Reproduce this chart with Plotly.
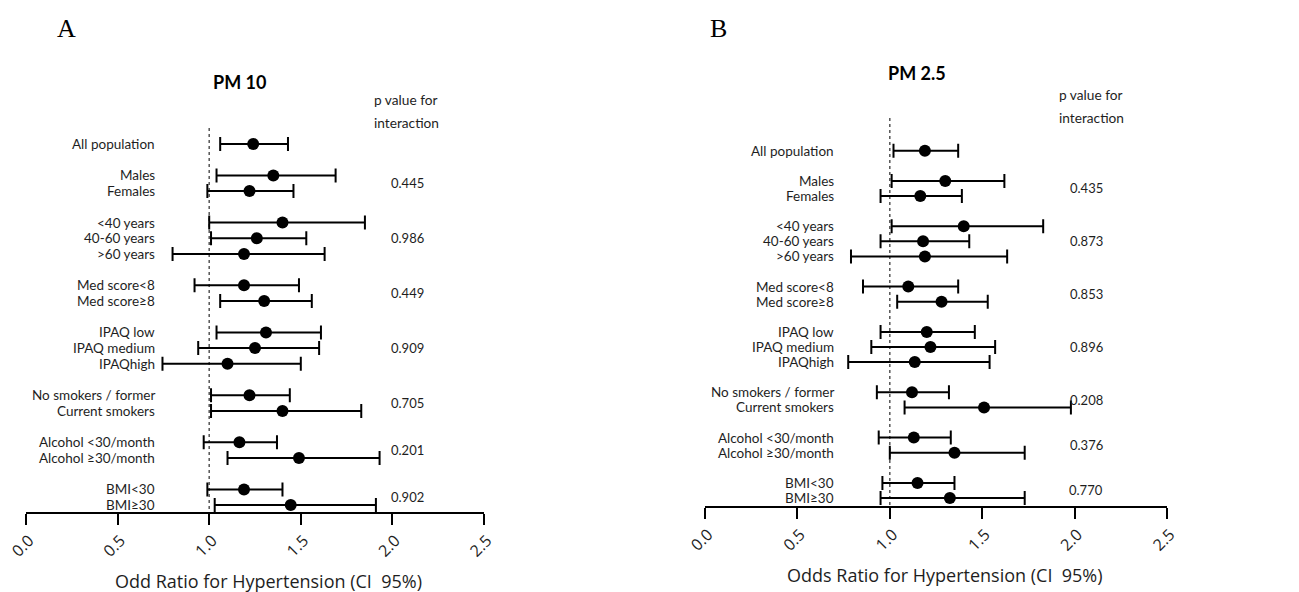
import plotly.graph_objects as go

# ---------------- data ----------------
groups = [
    ["All population"],
    ["Males", "Females"],
    ["<40 years", "40-60 years", ">60 years"],
    ["Med score<8", "Med score\u22658"],
    ["IPAQ low", "IPAQ medium", "IPAQhigh"],
    ["No smokers / former", "Current smokers"],
    ["Alcohol <30/month", "Alcohol \u226530/month"],
    ["BMI<30", "BMI\u226530"],
]

pm10_or = [1.24, 1.35, 1.22, 1.40, 1.26, 1.19, 1.19, 1.30, 1.31, 1.25, 1.10, 1.22, 1.40, 1.165, 1.49, 1.19, 1.445]
pm10_lo = [1.06, 1.04, 0.99, 1.00, 1.01, 0.80, 0.92, 1.06, 1.04, 0.94, 0.745, 1.01, 1.01, 0.97, 1.10, 0.99, 1.03]
pm10_hi = [1.43, 1.69, 1.46, 1.85, 1.53, 1.63, 1.49, 1.56, 1.61, 1.60, 1.50, 1.44, 1.83, 1.37, 1.93, 1.40, 1.91]
pm10_p = ["", "0.445", "0.986", "0.449", "0.909", "0.705", "0.201", "0.902"]

pm25_or = [1.19, 1.30, 1.165, 1.40, 1.18, 1.19, 1.10, 1.28, 1.20, 1.22, 1.135, 1.12, 1.51, 1.13, 1.35, 1.15, 1.325]
pm25_lo = [1.02, 1.01, 0.95, 1.01, 0.95, 0.79, 0.855, 1.04, 0.95, 0.90, 0.775, 0.93, 1.08, 0.94, 1.00, 0.96, 0.95]
pm25_hi = [1.37, 1.62, 1.39, 1.83, 1.43, 1.635, 1.37, 1.53, 1.46, 1.57, 1.54, 1.32, 1.98, 1.33, 1.73, 1.35, 1.73]
pm25_p = ["", "0.435", "0.873", "0.853", "0.896", "0.208", "0.376", "0.770"]

x_ticks = [0.0, 0.5, 1.0, 1.5, 2.0, 2.5]
ref_value = 1.0

# ---------------- layout constants ----------------
OFF = 8                      # page body margin
W, H = 1299 - OFF, 592 - OFF
FONT = "Lato"
TXT = "#1e1e1e"


def px_x(p):
    return (p - OFF) / W


def px_y(p):
    return 1 - (p - OFF) / H


# row positions derived from group structure (blank row between groups)
rows, group_mid = [], []
r = 0
for g in groups:
    start = r
    for _ in g:
        rows.append(r)
        r += 1
    group_mid.append((start + r - 1) / 2)
    r += 1
labels = [lab for g in groups for lab in g]

panels = [
    dict(letter="A", title="PM 10", or_=pm10_or, lo=pm10_lo, hi=pm10_hi, p=pm10_p,
         x0px=26, x1px=484, ybot=512, row0=144, rowstep=15.7, dottop=128,
         letter_px=(55, 28), title_px=(239, 82), pv_px=(372, 100, 123),
         xt="Odd Ratio for Hypertension (CI\u00a0 95%)", xt_px=(268, 581)),
    dict(letter="B", title="PM 2.5", or_=pm25_or, lo=pm25_lo, hi=pm25_hi, p=pm25_p,
         x0px=705, x1px=1167, ybot=506, row0=150.7, rowstep=15.1, dottop=118,
         letter_px=(708, 28), title_px=(917, 73), pv_px=(1057, 95, 117),
         xt="Odds Ratio for Hypertension (CI\u00a0 95%)", xt_px=(945, 575)),
]

TOP_PX = 90

fig = go.Figure()
annotations = []
shapes = []

for i, P in enumerate(panels):
    k = "" if i == 0 else str(i + 1)
    xa, ya = "x" + k, "y" + k
    x_unit = (P["x1px"] - P["x0px"]) / (x_ticks[-1] - x_ticks[0])

    def to_row(py, P=P):
        return (py - P["row0"]) / P["rowstep"]

    def to_x(px, P=P, x_unit=x_unit):
        return x_ticks[0] + (px - P["x0px"]) / x_unit

    r_bot = to_row(P["ybot"])
    r_top = to_row(TOP_PX)

    err_p = [h - o for h, o in zip(P["hi"], P["or_"])]
    err_m = [o - l for o, l in zip(P["or_"], P["lo"])]

    fig.add_trace(go.Scatter(
        x=P["or_"], y=rows, mode="markers", xaxis=xa, yaxis=ya,
        marker=dict(size=12, color="black"),
        error_x=dict(type="data", symmetric=False, array=err_p, arrayminus=err_m,
                     color="black", thickness=2, width=7),
        showlegend=False, hoverinfo="skip", cliponaxis=False,
    ))

    fig.layout["xaxis" + k] = dict(
        domain=[px_x(P["x0px"]), px_x(P["x1px"])], range=[x_ticks[0], x_ticks[-1]],
        anchor=ya, tickvals=x_ticks, ticktext=[f"{t:.1f}" for t in x_ticks],
        tickangle=-45, showline=True, linewidth=2, linecolor="black",
        ticks="outside", ticklen=11, tickwidth=2, tickcolor="black",
        showgrid=False, zeroline=False, automargin=False, ticklabeloverflow="allow",
        ticklabelshift=3,
        tickfont=dict(family="Open Sans", size=16, color=TXT),
    )
    fig.layout["yaxis" + k] = dict(
        domain=[px_y(P["ybot"]), px_y(TOP_PX)], range=[r_bot, r_top],
        anchor=xa, visible=False, showgrid=False, zeroline=False, automargin=False,
    )

    # reference dotted line
    shapes.append(dict(type="line", xref=xa, yref=ya, x0=ref_value, x1=ref_value,
                       y0=to_row(P["dottop"]), y1=r_bot, layer="below",
                       line=dict(color="#555555", width=1.5, dash="dot")))

    # row labels
    lab_x = to_x(P["x0px"] + 131)
    for lab, ry in zip(labels, rows):
        annotations.append(dict(text=lab, x=lab_x, y=ry, xref=xa, yref=ya,
                                xanchor="right", yanchor="middle", showarrow=False,
                                font=dict(family=FONT, size=13.5, color=TXT)))
    # p values
    pv_x = to_x(P["x0px"] + 381)
    for pv, gm in zip(P["p"], group_mid):
        if pv:
            annotations.append(dict(text=pv, x=pv_x, y=gm, xref=xa, yref=ya,
                                    xanchor="center", yanchor="middle", showarrow=False,
                                    font=dict(family=FONT, size=13, color=TXT)))
    # header p value
    pvx, l1, l2 = P["pv_px"]
    for txt, yy in (("p value for", l1), ("interaction", l2)):
        annotations.append(dict(text=txt, x=px_x(pvx), y=px_y(yy), xref="paper", yref="paper",
                                xanchor="left", yanchor="middle", showarrow=False,
                                font=dict(family=FONT, size=13.7, color=TXT)))
    # panel letter
    lx, ly = P["letter_px"]
    annotations.append(dict(text=P["letter"], x=px_x(lx), y=px_y(ly), xref="paper", yref="paper",
                            xanchor="left", yanchor="middle", showarrow=False,
                            font=dict(family="Liberation Serif", size=26, color="black")))
    # title
    tx, ty = P["title_px"]
    annotations.append(dict(text="<b>" + P["title"] + "</b>", x=px_x(tx), y=px_y(ty),
                            xref="paper", yref="paper", xanchor="center", yanchor="middle",
                            showarrow=False, font=dict(family=FONT, size=18, color="black")))
    # x axis title
    ax, ay = P["xt_px"]
    annotations.append(dict(text=P["xt"], x=px_x(ax), y=px_y(ay), xref="paper", yref="paper",
                            xanchor="center", yanchor="middle", showarrow=False,
                            font=dict(family="Open Sans", size=18, color=TXT)))

fig.update_layout(
    width=W, height=H, autosize=False,
    margin=dict(l=0, r=0, t=0, b=0, autoexpand=False),
    paper_bgcolor="white", plot_bgcolor="white",
    annotations=annotations, shapes=shapes,
)

fig.write_html("out.html")
